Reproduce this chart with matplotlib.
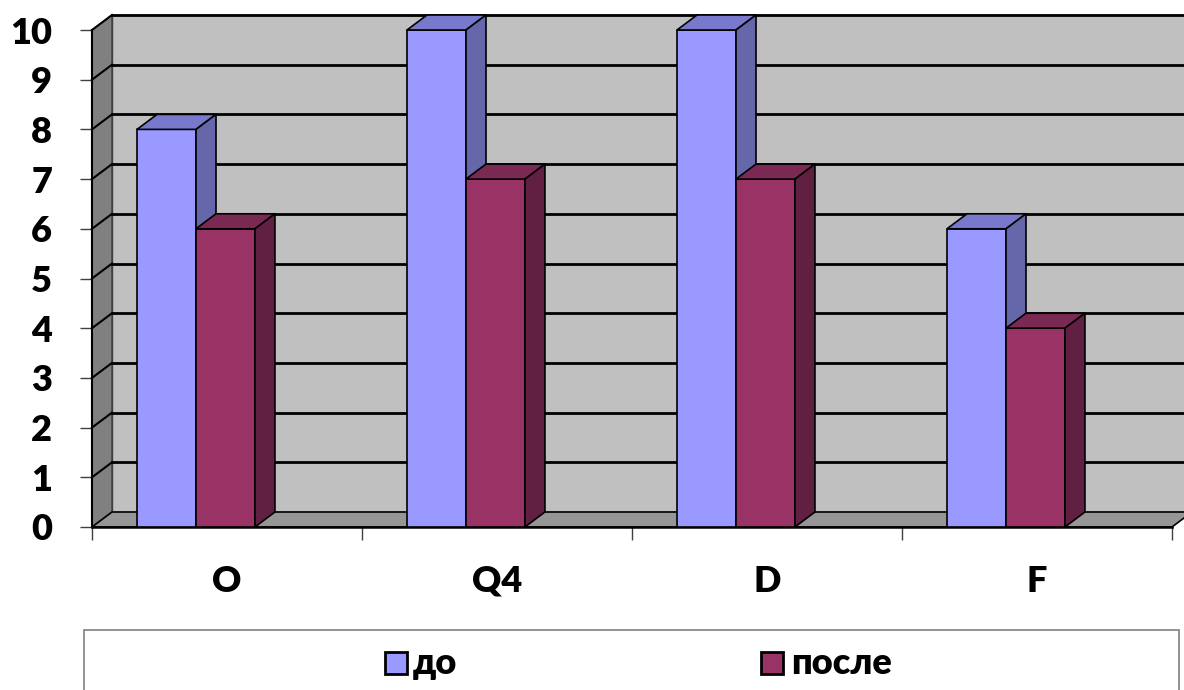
import matplotlib
matplotlib.use("Agg")
import matplotlib.pyplot as plt
from matplotlib.patches import Polygon, Rectangle
from matplotlib.lines import Line2D

# ---- data ----
categories = ["O", "Q4", "D", "F"]
series_names = ["до", "после"]
before = [8, 10, 10, 6]
after = [6, 7, 7, 4]
y_ticks = [0, 1, 2, 3, 4, 5, 6, 7, 8, 9, 10]

# ---- style ----
front_cols = ["#9999FF", "#993366"]
top_cols = ["#7878CC", "#7A2952"]
side_cols = ["#6666AA", "#612042"]
W, H = 1184, 690
plt.rcParams['font.family'] = ['Lato', 'Roboto', 'DejaVu Sans']
WEIGHT = 'heavy'

fig = plt.figure(figsize=(W / 100, H / 100), dpi=100)
x0p, x1p, y0p, y1p = 92, 1172, 527, 30
ax = fig.add_axes([x0p / W, (H - y0p) / H, (x1p - x0p) / W, (y0p - y1p) / H])
ncat = len(categories)
ymax = max(y_ticks)
ax.set_xlim(0, ncat)
ax.set_ylim(0, ymax)
for s in ax.spines.values():
    s.set_visible(False)

# depth offsets in data units
dx = 20 / ((x1p - x0p) / ncat)
dy = 15 / ((y0p - y1p) / ymax)
xr = ncat + 0.2  # back wall beyond right edge (clipped by figure)

def poly(pts, fc, z, ec="black", lw=1.2):
    ax.add_patch(Polygon(pts, closed=True, facecolor=fc, edgecolor=ec,
                         linewidth=lw, zorder=z, clip_on=False, joinstyle='round'))

def line(xs, ys, z, lw=1.8, c="black"):
    ax.add_line(Line2D(xs, ys, color=c, lw=lw, zorder=z, clip_on=False))

# walls
poly([(0, 0), (0, ymax), (dx, ymax + dy), (dx, dy)], "#808080", 1, ec="#404040", lw=1)
poly([(dx, dy), (dx, ymax + dy), (xr, ymax + dy), (xr, dy)], "#C0C0C0", 1, ec="#404040", lw=1)
poly([(0, 0), (dx, dy), (ncat + dx, dy), (ncat, 0)], "#969696", 1, ec="black", lw=1.2)
for v in y_ticks[1:]:
    line([dx, xr], [v + dy, v + dy], 2, lw=2)
    line([0, dx], [v, v + dy], 2, lw=1.5)
line([0, 0], [0, ymax], 2, lw=1.5)
line([0, ncat], [0, 0], 2, lw=1.8)

# bars
offs = [0.1667, 0.385]
bw = 0.2185
for i in range(ncat):
    for k, vals in enumerate([before, after]):
        h = vals[i]
        x = i + offs[k]
        z = 5 + k
        poly([(x, 0), (x + bw, 0), (x + bw, h), (x, h)], front_cols[k], z)
        poly([(x, h), (x + bw, h), (x + bw + dx, h + dy), (x + dx, h + dy)], top_cols[k], z)
        poly([(x + bw, 0), (x + bw, h), (x + bw + dx, h + dy), (x + bw + dx, dy)], side_cols[k], z)

# ticks
ax.set_yticks(y_ticks)
ax.set_yticklabels([str(t) for t in y_ticks])
ax.tick_params(axis='y', direction='out', length=8.6, width=1, color='#404040',
               pad=20, labelsize=26)
ax.set_xticks(range(ncat + 1))
ax.set_xticklabels([])
ax.tick_params(axis='x', which='major', direction='out', length=9, width=1, color='#404040')
ax.set_xticks([i + 0.5 for i in range(ncat)], minor=True)
ax.set_xticklabels(categories, minor=True)
ax.tick_params(axis='x', which='minor', length=0, pad=27, labelsize=26)
for lab in ax.get_xticklabels(minor=True) + ax.get_yticklabels():
    lab.set_fontweight(WEIGHT)

# legend box
fig.patches.append(Rectangle((84 / W, -0.1), (1179 - 84) / W, (H - 630) / H + 0.1,
                             transform=fig.transFigure, facecolor='white',
                             edgecolor='#808080', linewidth=1.2))
leg_sq_x = [385, 761]
leg_txt_x = [413, 791]
for k, name in enumerate(series_names):
    fig.patches.append(Rectangle((leg_sq_x[k] / W, (H - 674) / H), 22 / W, 22 / H,
                                 transform=fig.transFigure, facecolor=front_cols[k],
                                 edgecolor='black', linewidth=2))
    fig.text(leg_txt_x[k] / W, (H - 663) / H, name, fontsize=26, fontweight=WEIGHT,
             va='center', ha='left', family=['Lato', 'Roboto', 'DejaVu Sans'])

fig.savefig("out.png", dpi=100)
